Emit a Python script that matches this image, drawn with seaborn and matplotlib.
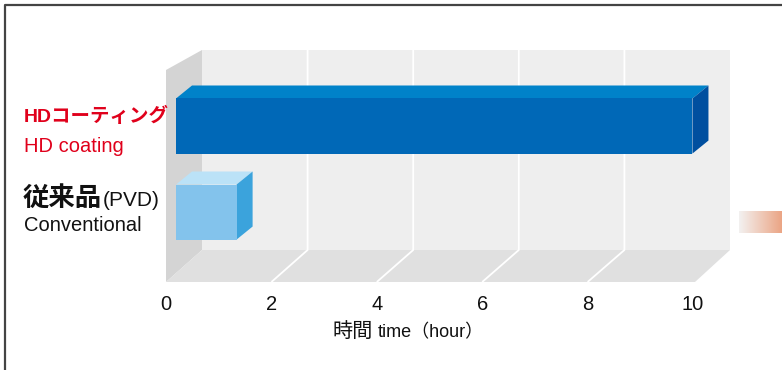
import matplotlib
matplotlib.use("Agg")
import matplotlib.pyplot as plt
import seaborn as sns
import numpy as np
import pandas as pd
from matplotlib.patches import Polygon, Rectangle
from matplotlib.transforms import ScaledTranslation
from matplotlib.colors import LinearSegmentedColormap

# ---------------- data ----------------
categories = ["HD coating", "Conventional"]
hours = [9.8, 1.15]
x_ticks = [0, 2, 4, 6, 8, 10]
label_jp = ["HDコーティング", "従来品"]
label_en = ["HD coating", "Conventional"]
label_pvd = "(PVD)"
x_label_jp = "時間"
x_label_en = "time（hour）"

front_colors = ["#0068b7", "#83c3ec"]
top_colors = ["#0082c9", "#bbe2f7"]
side_colors = ["#004f9f", "#3ba3dc"]

W, H = 782, 370
fig = plt.figure(figsize=(W / 100, H / 100), dpi=100)

# background axes in pixel coordinates (y downwards)
bg = fig.add_axes([0, 0, 1, 1], zorder=0)
bg.set_xlim(0, W)
bg.set_ylim(H, 0)
bg.axis("off")

# front plane of the 3D box
fx0, fx1, fy0, fy1 = 166, 693, 70, 282
# back plane
bx0, bx1, by0, by1 = 202, 730, 50, 250

ax = fig.add_axes([fx0 / W, (H - fy1) / H, (fx1 - fx0) / W, (fy1 - fy0) / H], zorder=1)
ax.patch.set_visible(False)

df = pd.DataFrame({"category": categories, "hours": hours})
sns.barplot(data=df, x="hours", y="category", hue="category", palette=front_colors,
            orient="h", width=0.64, saturation=1, legend=False, ax=ax, zorder=3)
ax.set_xlim(0, 10)
ax.set_ylim(1.709, -0.756)
for s in ax.spines.values():
    s.set_visible(False)
ax.set_yticks([])
ax.set_ylabel("")
ax.set_xlabel("")
ax.set_xticks(x_ticks)
ax.set_xticklabels([str(t) for t in x_ticks], fontsize=14.5, family="Liberation Sans", color="#111111")
ax.tick_params(axis="x", length=0, pad=9)

# walls
bg.add_patch(Rectangle((bx0, by0), bx1 - bx0, by1 - by0, color="#eeeeee", lw=0, zorder=1))
bg.add_patch(Polygon([(fx0, fy0), (bx0, by0), (bx0, by1), (fx0, fy1)], closed=True,
                     color="#d4d4d4", lw=0, zorder=1))
bg.add_patch(Polygon([(fx0, fy1), (bx0, by1), (bx1, by1), (fx1 + 2, fy1)], closed=True,
                     color="#e0e0e0", lw=0, zorder=1))

inv = bg.transData.inverted()
for v in x_ticks[1:-1]:
    xf = inv.transform(ax.transData.transform((v, 0)))[0]
    xb = bx0 + (xf - fx0) * (bx1 - bx0) / (fx1 - fx0)
    bg.plot([xf, xb, xb], [fy1, by1, by0], color="white", lw=1.3, zorder=2,
            solid_capstyle="butt")

# bars: depth shift + 3D faces
shift = ScaledTranslation(0.10, 0.09, fig.dpi_scale_trans)
bar_trans = ax.transData + shift
bars = sorted(ax.patches, key=lambda p: p.get_y())
for i, p in enumerate(bars):
    p.set_transform(bar_trans)
    p.set_linewidth(0)
    x0, y0, w, h = p.get_x(), p.get_y(), p.get_width(), p.get_height()
    pts = inv.transform(bar_trans.transform([(x0, y0), (x0 + w, y0 + h)]))
    L, R = pts[:, 0].min(), pts[:, 0].max()
    T, B = pts[:, 1].min(), pts[:, 1].max()
    dx, dy = 16, 13
    bg.add_patch(Polygon([(L, T), (R, T), (R + dx, T - dy), (L + dx, T - dy)], closed=True,
                         color=top_colors[i], lw=0, zorder=5))
    bg.add_patch(Polygon([(R, T), (R + dx, T - dy), (R + dx, B - dy), (R, B)], closed=True,
                         color=side_colors[i], lw=0, zorder=5))

# left labels
red = "#e0001b"
fam_mix = ["Liberation Sans", "Noto Sans CJK JP"]
bg.text(24, 122, label_jp[0], color=red, fontsize=14, fontweight="bold",
        family=fam_mix, ha="left", va="baseline", zorder=6)
bg.text(24, 152, label_en[0], color=red, fontsize=14.5, family="Liberation Sans",
        ha="left", va="baseline", zorder=6)
bg.text(23, 206, label_jp[1], color="#111111", fontsize=19, fontweight="bold",
        family=["Noto Sans CJK JP", "DejaVu Sans"], ha="left", va="baseline", zorder=6)
bg.text(103, 206, label_pvd, color="#111111", fontsize=15, family="Liberation Sans",
        ha="left", va="baseline", zorder=6)
bg.text(24, 231, label_en[1], color="#111111", fontsize=14.5, family="Liberation Sans",
        ha="left", va="baseline", zorder=6)

# axis title
bg.text(333, 337, x_label_jp, ha="left", va="baseline", fontsize=14.5, color="#111111",
        family=["Noto Sans CJK JP", "DejaVu Sans"], zorder=6)
bg.text(378, 337, x_label_en, ha="left", va="baseline", fontsize=13, color="#111111",
        family=fam_mix, zorder=6)

# gradient swatch at the right
cmap = LinearSegmentedColormap.from_list("g", ["#f3f1f0", "#eba585"])
grad = np.linspace(0, 1, 64).reshape(1, -1)
bg.imshow(grad, cmap=cmap, extent=(739, 782, 233, 211), aspect="auto", zorder=2)
bg.set_xlim(0, W)
bg.set_ylim(H, 0)

# frame border
bg.plot([5, 5, W + 5], [H + 5, 5, 5], color="#444444", lw=1.6, zorder=7)

fig.savefig("out.png", dpi=100)
